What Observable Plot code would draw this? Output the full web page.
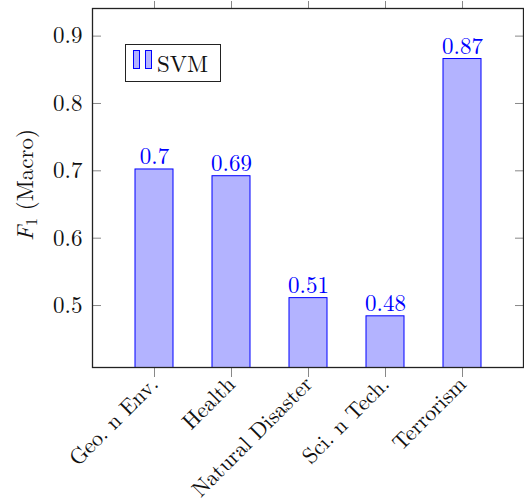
<!DOCTYPE html>
<html><head><meta charset="utf-8">
<script src="https://cdn.jsdelivr.net/npm/d3@7"></script>
<script src="https://cdn.jsdelivr.net/npm/@observablehq/plot@0.6"></script>
<style>
body{margin:0;background:#fff;}
#wrap{position:relative;width:524px;height:501px;font-family:"Latin Modern Roman","Liberation Serif",serif;color:#111;}
#wrap svg{position:absolute;left:0;top:0;}
#wrap svg text{font-family:"Latin Modern Roman","Liberation Serif",serif;}
#legend{position:absolute;left:125px;top:44px;width:94px;height:36px;border:1.3px solid #222;background:#fff;font-size:23px;}
#legend .sw{position:absolute;top:5px;width:5px;height:17px;background:#b3b3ff;border:1px solid #0000ff;}
#legend .txt{position:absolute;left:31px;top:4px;line-height:28px;}
#ylab{position:absolute;left:23px;top:185px;transform:translate(-50%,-50%) rotate(-90deg);white-space:nowrap;font-size:23px;}
#ylab sub{font-size:16px;vertical-align:-4px;line-height:0;}
</style>
</head><body>
<div id="wrap"></div>
<script>
const categories = ["Geo. n Env.", "Health", "Natural Disaster", "Sci. n Tech.", "Terrorism"];
const f1Macro = [0.702, 0.692, 0.511, 0.484, 0.866];
const barLabels = ["0.7", "0.69", "0.51", "0.48", "0.87"];
const yTicks = [0.5, 0.6, 0.7, 0.8, 0.9];
const seriesName = "SVM";

const data = categories.map((c, i) => ({category: c, f1: f1Macro[i], label: barLabels[i]}));
const FONT = "Latin Modern Roman";

const chart = Plot.plot({
  width: 524, height: 501,
  marginLeft: 92, marginRight: 1, marginTop: 8, marginBottom: 134,
  style: {fontFamily: FONT, fontSize: "23px", background: "transparent", overflow: "visible", color: "#111"},
  x: {domain: categories, paddingInner: 0.508, paddingOuter: 0.544, label: null},
  y: {domain: [0.408, 0.941], label: null},
  marks: [
    Plot.barY(data, {x: "category", y: "f1", fill: "#b3b3ff", stroke: "#0000ff", strokeWidth: 1, clip: true}),
    Plot.text(data, {x: "category", y: "f1", text: "label", fill: "#0000ff", lineAnchor: "bottom", dy: -5, fontSize: 23}),
    Plot.axisY(yTicks, {anchor: "left", tickSize: -9, text: null, stroke: "#888"}),
    Plot.axisY(yTicks, {anchor: "right", tickSize: -9, text: null, stroke: "#888"}),
    Plot.axisY(yTicks, {anchor: "left", tickSize: 0, tickPadding: 10, tickFormat: d => String(d), fontSize: 23, fill: "#111"}),
    Plot.axisX({anchor: "bottom", tickSize: 10, text: null, stroke: "#888"}),
    Plot.axisX({anchor: "top", tickSize: 8, text: null, stroke: "#888"}),
    Plot.axisX({anchor: "bottom", tickSize: 0, tickRotate: -45, tickPadding: 13, fontSize: 22, fill: "#111"}),
    Plot.frame({stroke: "#222", strokeWidth: 1.3})
  ]
});
const wrap = document.getElementById("wrap");
wrap.appendChild(chart);

const lg = document.createElement("div");
lg.id = "legend";
lg.innerHTML = `<div class="sw" style="left:7px"></div><div class="sw" style="left:19px"></div><div class="txt"></div>`;
lg.querySelector(".txt").textContent = seriesName;
wrap.appendChild(lg);

const yl = document.createElement("div");
yl.id = "ylab";
yl.innerHTML = "<i>F</i><sub>1</sub> (Macro)";
wrap.appendChild(yl);
</script>
</body></html>
